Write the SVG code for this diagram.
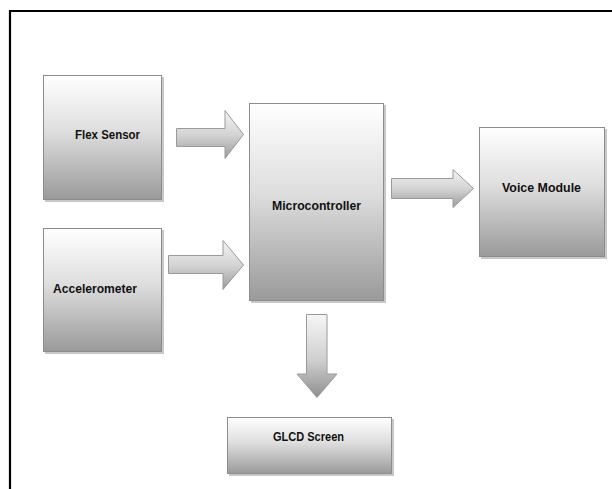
<svg xmlns="http://www.w3.org/2000/svg" width="612" height="489" viewBox="0 0 612 489">
<defs>
<linearGradient id="gBox" x1="0" y1="0" x2="0" y2="1">
<stop offset="0" stop-color="#ffffff"/>
<stop offset="0.45" stop-color="#dedede"/>
<stop offset="1" stop-color="#9a9a9a"/>
</linearGradient>
<linearGradient id="gArrH" x1="0" y1="0" x2="0" y2="1">
<stop offset="0" stop-color="#f4f4f4"/>
<stop offset="0.5" stop-color="#d4d4d4"/>
<stop offset="1" stop-color="#9c9c9c"/>
</linearGradient>
<linearGradient id="gArrV" x1="0" y1="0" x2="0" y2="1">
<stop offset="0" stop-color="#f6f6f6"/>
<stop offset="0.55" stop-color="#cfcfcf"/>
<stop offset="1" stop-color="#8e8e8e"/>
</linearGradient>
</defs>
<style>
.box{fill:url(#gBox);stroke:#8c8c8c;stroke-width:1}
.shadow{fill:#c8c8c8}
.arrH{fill:url(#gArrH);stroke:#9a9a9a;stroke-width:1}
.arrV{fill:url(#gArrV);stroke:#9a9a9a;stroke-width:1}
.lbl{font-family:"Liberation Sans",Arial,sans-serif;font-weight:bold;font-size:13px;fill:#111}
</style>
<rect width="612" height="489" fill="#ffffff"/>
<path d="M10 489 V11 H612" fill="none" stroke="#000" stroke-width="2.2"/>
<g id="flex-sensor">
<rect class="shadow" x="45" y="77" width="119" height="125"/>
<rect class="box" x="43.5" y="75.5" width="118" height="124"/>
<text class="lbl" x="75" y="139" textLength="65" lengthAdjust="spacingAndGlyphs">Flex Sensor</text>
</g>
<g id="accelerometer">
<rect class="shadow" x="45" y="230" width="119" height="124"/>
<rect class="box" x="43.5" y="228.5" width="118" height="123"/>
<text class="lbl" x="53" y="293" textLength="84" lengthAdjust="spacingAndGlyphs">Accelerometer</text>
</g>
<g id="microcontroller">
<rect class="shadow" x="251" y="105" width="135" height="198"/>
<rect class="box" x="249.5" y="103.5" width="134" height="197"/>
<text class="lbl" x="272" y="210" textLength="89" lengthAdjust="spacingAndGlyphs">Microcontroller</text>
</g>
<g id="voice-module">
<rect class="shadow" x="481" y="129" width="126" height="130"/>
<rect class="box" x="479.5" y="127.5" width="125" height="129"/>
<text class="lbl" x="502" y="192" textLength="79" lengthAdjust="spacingAndGlyphs">Voice Module</text>
</g>
<g id="glcd-screen">
<rect class="shadow" x="229" y="419" width="165" height="57"/>
<rect class="box" x="227.5" y="417.5" width="164" height="56"/>
<text class="lbl" x="273" y="441" textLength="71" lengthAdjust="spacingAndGlyphs">GLCD Screen</text>
</g>
<g id="connectors">
<path class="arrH" d="M176.5 128.5 H225 V110.5 L243.5 134.5 L225 158.5 V146.5 H176.5 Z"/>
<path class="arrH" d="M168.5 255.5 H223 V240.5 L243.5 265 L223 289.5 V273.5 H168.5 Z"/>
<path class="arrH" d="M391.5 178.5 H453 V169.5 L473.5 188.5 L453 207.5 V198.5 H391.5 Z"/>
<path class="arrV" d="M306.5 314.5 H327 V374 H337 L317 397.5 L297 374 H306.5 Z"/>
</g>
</svg>
